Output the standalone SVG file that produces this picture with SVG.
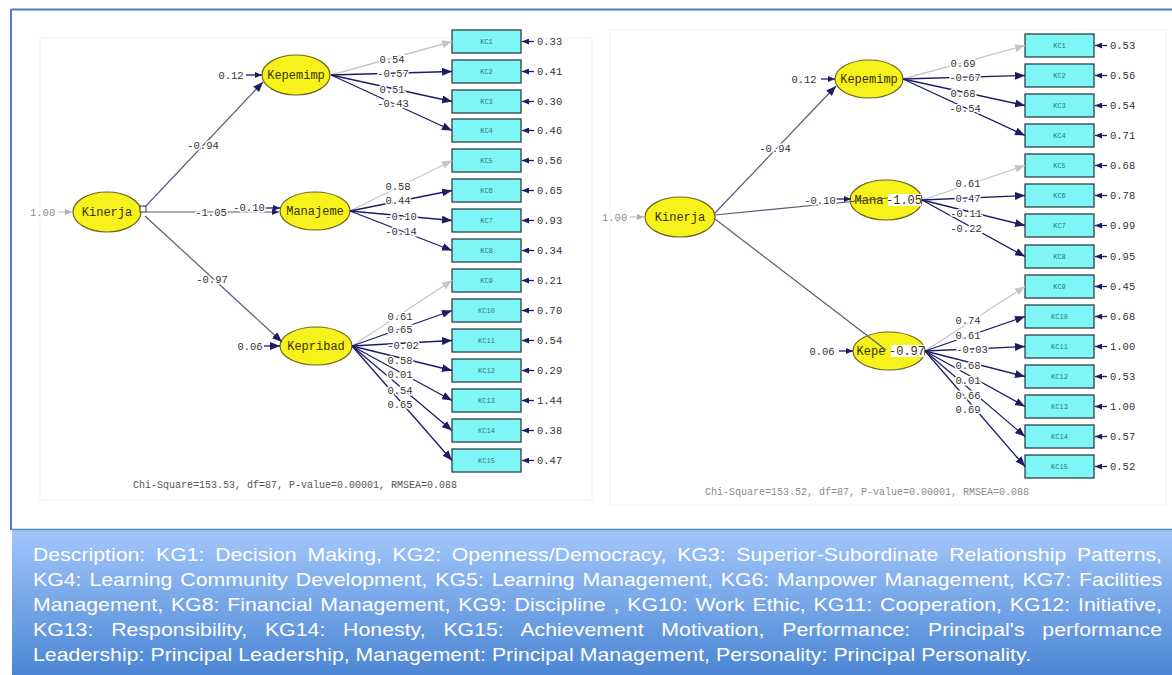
<svg xmlns="http://www.w3.org/2000/svg" width="1172" height="675" viewBox="0 0 1172 675">
<defs>
<style>
.lat{fill:#f7f21c;stroke:#6b6520;stroke-width:1.2}
.lt{font-family:"Liberation Mono",monospace;font-size:12px;fill:#3a3000;text-anchor:middle}
.box{fill:#7ff6f6;stroke:#2f3f46;stroke-width:1.3}
.bt{font-family:"Liberation Mono",monospace;font-size:7px;fill:#2d7777;text-anchor:middle}
.ld{stroke:#1c1c66;stroke-width:1.3;fill:none}
.ldg{stroke:#c6c6c6;stroke-width:1.3;fill:none}
.st{stroke:#5a5a78;stroke-width:1.2;fill:none}
.num{font-family:"Liberation Mono",monospace;font-size:10.5px;fill:#333;text-anchor:middle;paint-order:stroke;stroke:#fff;stroke-width:3}
.numg{font-family:"Liberation Mono",monospace;font-size:10.5px;fill:#8a8a8a;paint-order:stroke;stroke:#fff;stroke-width:3}
.err{font-family:"Liberation Mono",monospace;font-size:10.5px;fill:#333}
.chi{font-family:"Liberation Mono",monospace;font-size:10px;fill:#555}
.desc{font-family:"Liberation Sans",Arial,sans-serif;font-size:18px;fill:#fff}
.hl{fill:#fff}
</style>
<marker id="an" markerUnits="userSpaceOnUse" markerWidth="11" markerHeight="8" refX="10" refY="4" orient="auto"><path d="M0,0 L10,4 L0,8 z" fill="#1c1c66"/></marker>
<marker id="ag" markerUnits="userSpaceOnUse" markerWidth="11" markerHeight="8" refX="10" refY="4" orient="auto"><path d="M0,0 L10,4 L0,8 z" fill="#c6c6c6"/></marker>
<marker id="as" markerUnits="userSpaceOnUse" markerWidth="8" markerHeight="6" refX="7" refY="3" orient="auto"><path d="M0,0 L7,3 L0,6 z" fill="#1c1c66"/></marker>
<marker id="asg" markerUnits="userSpaceOnUse" markerWidth="8" markerHeight="6" refX="7" refY="3" orient="auto"><path d="M0,0 L7,3 L0,6 z" fill="#b0b0b0"/></marker>
<linearGradient id="bg" x1="0" y1="0" x2="0" y2="1"><stop offset="0" stop-color="#a3c7fc"/><stop offset="1" stop-color="#4b86d3"/></linearGradient>
</defs>

<rect width="1172" height="675" fill="#fff"/>
<g id="frame">
<rect x="40" y="38" width="552" height="462" fill="none" stroke="#f0f0f0"/>
<rect x="610" y="30" width="556" height="475" fill="none" stroke="#f0f0f0"/>
<line x1="11" y1="9.5" x2="1172" y2="9.5" stroke="#4a7fc8" stroke-width="2"/>
<line x1="11" y1="9" x2="11" y2="530" stroke="#4a7fc8" stroke-width="2"/>
</g>

<g id="left-nodes">
<g id="L-Kinerja"><ellipse class="lat" cx="107" cy="212" rx="34" ry="20"/><text class="lt" x="107" y="216">Kinerja</text><rect x="140" y="206" width="6" height="6" fill="#fff" stroke="#333"/></g>
<g id="L-Kepemimp"><ellipse class="lat" cx="296" cy="75" rx="34" ry="20"/><text class="lt" x="296" y="79">Kepemimp</text></g>
<g id="L-Manajeme"><ellipse class="lat" cx="315" cy="211" rx="35" ry="19"/><text class="lt" x="315" y="215">Manajeme</text></g>
<g id="L-Kepribad"><ellipse class="lat" cx="316" cy="346" rx="36" ry="19"/><text class="lt" x="316" y="350">Kepribad</text></g>
<g id="L-KC1"><rect class="box" x="452" y="30" width="69" height="23"/><text class="bt" x="486.5" y="44">KC1</text></g>
<g id="L-KC2"><rect class="box" x="452" y="60" width="69" height="23"/><text class="bt" x="486.5" y="74">KC2</text></g>
<g id="L-KC3"><rect class="box" x="452" y="90" width="69" height="23"/><text class="bt" x="486.5" y="104">KC3</text></g>
<g id="L-KC4"><rect class="box" x="452" y="119" width="69" height="23"/><text class="bt" x="486.5" y="133">KC4</text></g>
<g id="L-KC5"><rect class="box" x="452" y="149" width="69" height="23"/><text class="bt" x="486.5" y="163">KC5</text></g>
<g id="L-KC6"><rect class="box" x="452" y="179" width="69" height="23"/><text class="bt" x="486.5" y="193">KC6</text></g>
<g id="L-KC7"><rect class="box" x="452" y="209" width="69" height="23"/><text class="bt" x="486.5" y="223">KC7</text></g>
<g id="L-KC8"><rect class="box" x="452" y="239" width="69" height="23"/><text class="bt" x="486.5" y="253">KC8</text></g>
<g id="L-KC9"><rect class="box" x="452" y="269" width="69" height="23"/><text class="bt" x="486.5" y="283">KC9</text></g>
<g id="L-KC10"><rect class="box" x="452" y="299" width="69" height="23"/><text class="bt" x="486.5" y="313">KC10</text></g>
<g id="L-KC11"><rect class="box" x="452" y="329" width="69" height="23"/><text class="bt" x="486.5" y="343">KC11</text></g>
<g id="L-KC12"><rect class="box" x="452" y="359" width="69" height="23"/><text class="bt" x="486.5" y="373">KC12</text></g>
<g id="L-KC13"><rect class="box" x="452" y="389" width="69" height="23"/><text class="bt" x="486.5" y="403">KC13</text></g>
<g id="L-KC14"><rect class="box" x="452" y="419" width="69" height="23"/><text class="bt" x="486.5" y="433">KC14</text></g>
<g id="L-KC15"><rect class="box" x="452" y="449" width="69" height="23"/><text class="bt" x="486.5" y="463">KC15</text></g>
</g>

<g id="right-nodes">
<g id="R-Kinerja"><ellipse class="lat" cx="680" cy="217" rx="35" ry="20"/><text class="lt" x="680" y="221">Kinerja</text></g>
<g id="R-Kepemimp"><ellipse class="lat" cx="869" cy="79" rx="34" ry="19"/><text class="lt" x="869" y="83">Kepemimp</text></g>
<g id="R-Mana"><ellipse class="lat" cx="886" cy="200" rx="36" ry="20"/><text class="lt" x="869" y="204">Mana</text><rect class="hl" x="888" y="194" width="33" height="12"/><text class="lt" x="904" y="204">-1.05</text></g>
<g id="R-Kepe"><ellipse class="lat" cx="889" cy="351" rx="36" ry="19"/><text class="lt" x="871" y="355">Kepe</text><rect class="hl" x="891" y="345" width="33" height="12"/><text class="lt" x="907" y="355">-0.97</text></g>
<g id="R-KC1"><rect class="box" x="1025" y="34" width="69" height="23"/><text class="bt" x="1059.5" y="48">KC1</text></g>
<g id="R-KC2"><rect class="box" x="1025" y="64" width="69" height="23"/><text class="bt" x="1059.5" y="78">KC2</text></g>
<g id="R-KC3"><rect class="box" x="1025" y="94" width="69" height="23"/><text class="bt" x="1059.5" y="108">KC3</text></g>
<g id="R-KC4"><rect class="box" x="1025" y="124" width="69" height="23"/><text class="bt" x="1059.5" y="138">KC4</text></g>
<g id="R-KC5"><rect class="box" x="1025" y="154" width="69" height="23"/><text class="bt" x="1059.5" y="168">KC5</text></g>
<g id="R-KC6"><rect class="box" x="1025" y="184" width="69" height="23"/><text class="bt" x="1059.5" y="198">KC6</text></g>
<g id="R-KC7"><rect class="box" x="1025" y="214" width="69" height="23"/><text class="bt" x="1059.5" y="228">KC7</text></g>
<g id="R-KC8"><rect class="box" x="1025" y="245" width="69" height="23"/><text class="bt" x="1059.5" y="259">KC8</text></g>
<g id="R-KC9"><rect class="box" x="1025" y="275" width="69" height="23"/><text class="bt" x="1059.5" y="289">KC9</text></g>
<g id="R-KC10"><rect class="box" x="1025" y="305" width="69" height="23"/><text class="bt" x="1059.5" y="319">KC10</text></g>
<g id="R-KC11"><rect class="box" x="1025" y="335" width="69" height="23"/><text class="bt" x="1059.5" y="349">KC11</text></g>
<g id="R-KC12"><rect class="box" x="1025" y="365" width="69" height="23"/><text class="bt" x="1059.5" y="379">KC12</text></g>
<g id="R-KC13"><rect class="box" x="1025" y="395" width="69" height="23"/><text class="bt" x="1059.5" y="409">KC13</text></g>
<g id="R-KC14"><rect class="box" x="1025" y="425" width="69" height="23"/><text class="bt" x="1059.5" y="439">KC14</text></g>
<g id="R-KC15"><rect class="box" x="1025" y="455" width="69" height="23"/><text class="bt" x="1059.5" y="469">KC15</text></g>
</g>

<g id="connectors">
<line class="st" x1="145" y1="207" x2="263" y2="82" marker-end="url(#an)"/>
<line class="st" x1="146" y1="212" x2="279" y2="212" marker-end="url(#as)"/>
<line class="st" x1="145" y1="216" x2="282" y2="342" marker-end="url(#an)"/>
<line class="ldg" x1="58" y1="212" x2="72" y2="212" marker-end="url(#asg)"/>
<line class="ld" x1="246" y1="75" x2="262" y2="75" marker-end="url(#as)"/>
<line class="ld" x1="264" y1="208" x2="280" y2="208" marker-end="url(#as)"/>
<line class="ld" x1="264" y1="346" x2="280" y2="346" marker-end="url(#an)"/>
<line class="ldg" x1="331" y1="75" x2="452" y2="41.5" marker-end="url(#ag)"/>
<line class="ld" x1="331" y1="75" x2="452" y2="71.5" marker-end="url(#an)"/>
<line class="ld" x1="331" y1="75" x2="452" y2="101.5" marker-end="url(#an)"/>
<line class="ld" x1="331" y1="75" x2="452" y2="130.5" marker-end="url(#an)"/>
<line class="ldg" x1="350" y1="211" x2="452" y2="160.5" marker-end="url(#ag)"/>
<line class="ld" x1="350" y1="211" x2="452" y2="190.5" marker-end="url(#an)"/>
<line class="ld" x1="350" y1="211" x2="452" y2="220.5" marker-end="url(#an)"/>
<line class="ld" x1="350" y1="211" x2="452" y2="250.5" marker-end="url(#an)"/>
<line class="ldg" x1="352" y1="346" x2="452" y2="280.5" marker-end="url(#ag)"/>
<line class="ld" x1="352" y1="346" x2="452" y2="310.5" marker-end="url(#an)"/>
<line class="ld" x1="352" y1="346" x2="452" y2="340.5" marker-end="url(#an)"/>
<line class="ld" x1="352" y1="346" x2="452" y2="370.5" marker-end="url(#an)"/>
<line class="ld" x1="352" y1="346" x2="452" y2="400.5" marker-end="url(#an)"/>
<line class="ld" x1="352" y1="346" x2="452" y2="430.5" marker-end="url(#an)"/>
<line class="ld" x1="352" y1="346" x2="452" y2="460.5" marker-end="url(#an)"/>
<g class="ld">
<line x1="534" y1="41.5" x2="522" y2="41.5" marker-end="url(#as)"/>
<line x1="534" y1="71.5" x2="522" y2="71.5" marker-end="url(#as)"/>
<line x1="534" y1="101.5" x2="522" y2="101.5" marker-end="url(#as)"/>
<line x1="534" y1="130.5" x2="522" y2="130.5" marker-end="url(#as)"/>
<line x1="534" y1="160.5" x2="522" y2="160.5" marker-end="url(#as)"/>
<line x1="534" y1="190.5" x2="522" y2="190.5" marker-end="url(#as)"/>
<line x1="534" y1="220.5" x2="522" y2="220.5" marker-end="url(#as)"/>
<line x1="534" y1="250.5" x2="522" y2="250.5" marker-end="url(#as)"/>
<line x1="534" y1="280.5" x2="522" y2="280.5" marker-end="url(#as)"/>
<line x1="534" y1="310.5" x2="522" y2="310.5" marker-end="url(#as)"/>
<line x1="534" y1="340.5" x2="522" y2="340.5" marker-end="url(#as)"/>
<line x1="534" y1="370.5" x2="522" y2="370.5" marker-end="url(#as)"/>
<line x1="534" y1="400.5" x2="522" y2="400.5" marker-end="url(#as)"/>
<line x1="534" y1="430.5" x2="522" y2="430.5" marker-end="url(#as)"/>
<line x1="534" y1="460.5" x2="522" y2="460.5" marker-end="url(#as)"/>
</g>
<line class="st" x1="715" y1="213" x2="836" y2="86" marker-end="url(#an)"/>
<line class="st" x1="715" y1="215" x2="888" y2="198"/>
<line class="st" x1="715" y1="219" x2="886" y2="350"/>
<line class="ldg" x1="630" y1="217" x2="644" y2="217" marker-end="url(#asg)"/>
<line class="ld" x1="821" y1="79" x2="835" y2="79" marker-end="url(#as)"/>
<line class="ld" x1="836" y1="199" x2="851" y2="199" marker-end="url(#as)"/>
<line class="ld" x1="839" y1="351" x2="853" y2="351" marker-end="url(#as)"/>
<line class="ldg" x1="903" y1="79" x2="1025" y2="45.5" marker-end="url(#ag)"/>
<line class="ld" x1="903" y1="79" x2="1025" y2="75.5" marker-end="url(#an)"/>
<line class="ld" x1="903" y1="79" x2="1025" y2="105.5" marker-end="url(#an)"/>
<line class="ld" x1="903" y1="79" x2="1025" y2="135.5" marker-end="url(#an)"/>
<line class="ldg" x1="922" y1="200" x2="1025" y2="165.5" marker-end="url(#ag)"/>
<line class="ld" x1="922" y1="200" x2="1025" y2="195.5" marker-end="url(#an)"/>
<line class="ld" x1="922" y1="200" x2="1025" y2="225.5" marker-end="url(#an)"/>
<line class="ld" x1="922" y1="200" x2="1025" y2="256.5" marker-end="url(#an)"/>
<line class="ldg" x1="925" y1="351" x2="1025" y2="286.5" marker-end="url(#ag)"/>
<line class="ld" x1="925" y1="351" x2="1025" y2="316.5" marker-end="url(#an)"/>
<line class="ld" x1="925" y1="351" x2="1025" y2="346.5" marker-end="url(#an)"/>
<line class="ld" x1="925" y1="351" x2="1025" y2="376.5" marker-end="url(#an)"/>
<line class="ld" x1="925" y1="351" x2="1025" y2="406.5" marker-end="url(#an)"/>
<line class="ld" x1="925" y1="351" x2="1025" y2="436.5" marker-end="url(#an)"/>
<line class="ld" x1="925" y1="351" x2="1025" y2="466.5" marker-end="url(#an)"/>
<g class="ld">
<line x1="1107" y1="45.5" x2="1095" y2="45.5" marker-end="url(#as)"/>
<line x1="1107" y1="75.5" x2="1095" y2="75.5" marker-end="url(#as)"/>
<line x1="1107" y1="105.5" x2="1095" y2="105.5" marker-end="url(#as)"/>
<line x1="1107" y1="135.5" x2="1095" y2="135.5" marker-end="url(#as)"/>
<line x1="1107" y1="165.5" x2="1095" y2="165.5" marker-end="url(#as)"/>
<line x1="1107" y1="195.5" x2="1095" y2="195.5" marker-end="url(#as)"/>
<line x1="1107" y1="225.5" x2="1095" y2="225.5" marker-end="url(#as)"/>
<line x1="1107" y1="256.5" x2="1095" y2="256.5" marker-end="url(#as)"/>
<line x1="1107" y1="286.5" x2="1095" y2="286.5" marker-end="url(#as)"/>
<line x1="1107" y1="316.5" x2="1095" y2="316.5" marker-end="url(#as)"/>
<line x1="1107" y1="346.5" x2="1095" y2="346.5" marker-end="url(#as)"/>
<line x1="1107" y1="376.5" x2="1095" y2="376.5" marker-end="url(#as)"/>
<line x1="1107" y1="406.5" x2="1095" y2="406.5" marker-end="url(#as)"/>
<line x1="1107" y1="436.5" x2="1095" y2="436.5" marker-end="url(#as)"/>
<line x1="1107" y1="466.5" x2="1095" y2="466.5" marker-end="url(#as)"/>
</g>
</g>

<g id="labels">
<text class="numg" x="30" y="216">1.00</text>
<text class="num" x="231" y="79">0.12</text>
<text class="num" x="203" y="149">-0.94</text>
<text class="num" x="211" y="216">-1.05</text>
<text class="num" x="249" y="211">-0.10</text>
<text class="num" x="212" y="283">-0.97</text>
<text class="num" x="250" y="350">0.06</text>
<text class="num" x="392" y="63">0.54</text>
<text class="num" x="393" y="77">-0.57</text>
<text class="num" x="392" y="93">0.51</text>
<text class="num" x="393" y="107">-0.43</text>
<text class="num" x="398" y="190">0.58</text>
<text class="num" x="398" y="204">0.44</text>
<text class="num" x="401" y="220">-0.10</text>
<text class="num" x="401" y="235">-0.14</text>
<text class="num" x="400" y="320">0.61</text>
<text class="num" x="400" y="333">0.65</text>
<text class="num" x="403" y="349">-0.02</text>
<text class="num" x="400" y="364">0.58</text>
<text class="num" x="400" y="378">0.01</text>
<text class="num" x="400" y="394">0.54</text>
<text class="num" x="400" y="408">0.65</text>
<g class="err">
<text x="537" y="45">0.33</text>
<text x="537" y="75">0.41</text>
<text x="537" y="105">0.30</text>
<text x="537" y="134">0.46</text>
<text x="537" y="164">0.56</text>
<text x="537" y="194">0.65</text>
<text x="537" y="224">0.93</text>
<text x="537" y="254">0.34</text>
<text x="537" y="284">0.21</text>
<text x="537" y="314">0.70</text>
<text x="537" y="344">0.54</text>
<text x="537" y="374">0.29</text>
<text x="537" y="404">1.44</text>
<text x="537" y="434">0.38</text>
<text x="537" y="464">0.47</text>
</g>
<text class="chi" x="133" y="488">Chi-Square=153.53, df=87, P-value=0.00001, RMSEA=0.088</text>
<text class="numg" x="602" y="221">1.00</text>
<text class="num" x="804" y="83">0.12</text>
<text class="num" x="775" y="152">-0.94</text>
<text class="num" x="820" y="204">-0.10</text>
<text class="num" x="822" y="355">0.06</text>
<text class="num" x="963" y="67">0.69</text>
<text class="num" x="965" y="81">-0.67</text>
<text class="num" x="963" y="97">0.68</text>
<text class="num" x="965" y="112">-0.54</text>
<text class="num" x="968" y="187">0.61</text>
<text class="num" x="968" y="202">0.47</text>
<text class="num" x="966" y="217">-0.11</text>
<text class="num" x="966" y="232">-0.22</text>
<text class="num" x="968" y="324">0.74</text>
<text class="num" x="968" y="339">0.61</text>
<text class="num" x="972" y="353">-0.03</text>
<text class="num" x="968" y="369">0.68</text>
<text class="num" x="968" y="384">0.01</text>
<text class="num" x="968" y="399">0.66</text>
<text class="num" x="968" y="413">0.69</text>
<g class="err">
<text x="1110" y="49">0.53</text>
<text x="1110" y="79">0.56</text>
<text x="1110" y="109">0.54</text>
<text x="1110" y="139">0.71</text>
<text x="1110" y="169">0.68</text>
<text x="1110" y="199">0.78</text>
<text x="1110" y="229">0.99</text>
<text x="1110" y="260">0.95</text>
<text x="1110" y="290">0.45</text>
<text x="1110" y="320">0.68</text>
<text x="1110" y="350">1.00</text>
<text x="1110" y="380">0.53</text>
<text x="1110" y="410">1.00</text>
<text x="1110" y="440">0.57</text>
<text x="1110" y="470">0.52</text>
</g>
<text class="chi" x="705" y="495" style="fill:#8a8a8a">Chi-Square=153.52, df=87, P-value=0.00001, RMSEA=0.088</text>
</g>

<g id="description">
<rect x="12" y="529" width="1160" height="146" fill="url(#bg)"/>
<line x1="12" y1="529.5" x2="1172" y2="529.5" stroke="#5a88cc" stroke-width="1.5"/>
<text class="desc" transform="translate(33,561) scale(1.18,1)" x="0" y="0" word-spacing="4.1" textLength="956.8" lengthAdjust="spacing">Description: KG1: Decision Making, KG2: Openness/Democracy, KG3: Superior-Subordinate Relationship Patterns,</text>
<text class="desc" transform="translate(33,586) scale(1.18,1)" x="0" y="0" word-spacing="1.6" textLength="956.8" lengthAdjust="spacing">KG4: Learning Community Development, KG5: Learning Management, KG6: Manpower Management, KG7: Facilities</text>
<text class="desc" transform="translate(33,611) scale(1.18,1)" x="0" y="0" word-spacing="1.6" textLength="956.8" lengthAdjust="spacing">Management, KG8: Financial Management, KG9: Discipline , KG10: Work Ethic, KG11: Cooperation, KG12: Initiative,</text>
<text class="desc" transform="translate(33,636) scale(1.18,1)" x="0" y="0" word-spacing="10" textLength="956.8" lengthAdjust="spacing">KG13: Responsibility, KG14: Honesty, KG15: Achievement Motivation, Performance: Principal's performance</text>
<text class="desc" transform="translate(33,661) scale(1.18,1)" x="0" y="0" textLength="845.8" lengthAdjust="spacing">Leadership: Principal Leadership, Management: Principal Management, Personality: Principal Personality.</text>
</g>
</svg>
